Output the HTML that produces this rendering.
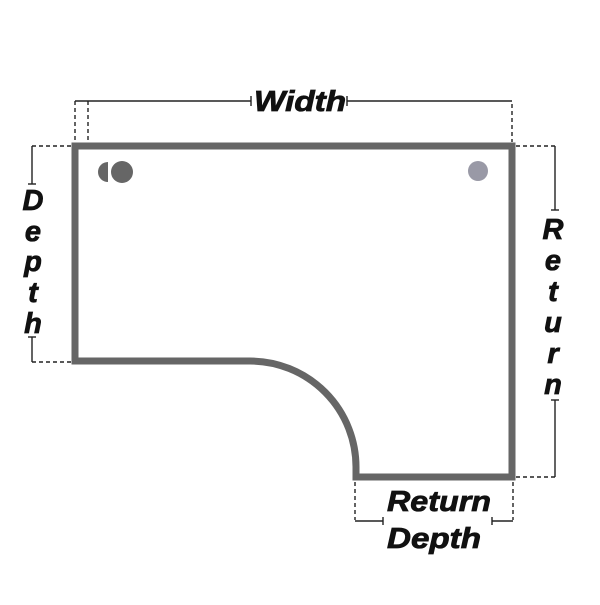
<!DOCTYPE html>
<html><head><style>html,body{margin:0;padding:0;background:#fff}</style></head>
<body>
<svg width="600" height="600" viewBox="0 0 600 600" xmlns="http://www.w3.org/2000/svg" font-family="Liberation Sans, sans-serif" font-weight="bold" font-style="italic">
<rect width="600" height="600" fill="#fff"/>
<path d="M75,146 H512 V477 H356 V468 A106,106 0 0 0 250,361 H75 Z" fill="none" stroke="#666" stroke-width="7" stroke-linejoin="miter"/>
<path d="M108,162 A10,10 0 0 0 108,182 Z" fill="#666"/>
<circle cx="122" cy="172" r="11" fill="#666"/>
<circle cx="478" cy="171" r="10" fill="#9999a6"/>
<g stroke="#222" stroke-width="1.4" fill="none">
<line x1="75" y1="101" x2="251" y2="101"/><line x1="251" y1="96" x2="251" y2="106"/>
<line x1="347" y1="101" x2="512" y2="101"/><line x1="347" y1="96" x2="347" y2="106"/>
<g stroke-dasharray="4,3"><line x1="75" y1="101" x2="75" y2="142"/><line x1="88" y1="101" x2="88" y2="142"/><line x1="512" y1="104" x2="512" y2="142"/></g>
<line x1="32" y1="146" x2="32" y2="184"/><line x1="28" y1="184" x2="36" y2="184"/>
<line x1="32" y1="337" x2="32" y2="362"/><line x1="28" y1="337" x2="36" y2="337"/>
<g stroke-dasharray="4,3"><line x1="32" y1="146" x2="71" y2="146"/><line x1="32" y1="362" x2="71" y2="362"/></g>
<line x1="555" y1="146" x2="555" y2="210"/><line x1="551" y1="210" x2="559" y2="210"/>
<line x1="555" y1="400" x2="555" y2="477"/><line x1="551" y1="400" x2="559" y2="400"/>
<g stroke-dasharray="4,3"><line x1="516" y1="146" x2="555" y2="146"/><line x1="516" y1="477" x2="555" y2="477"/></g>
<g stroke-dasharray="4,3"><line x1="355" y1="482" x2="355" y2="520"/><line x1="513" y1="482" x2="513" y2="520"/></g>
<line x1="355" y1="521" x2="383" y2="521"/><line x1="383" y1="517" x2="383" y2="525"/>
<line x1="492" y1="521" x2="513" y2="521"/><line x1="492" y1="517" x2="492" y2="525"/>
</g>
<g fill="#111" stroke="#111" stroke-width="0.8" font-size="29">
<text x="254" y="111" textLength="92" lengthAdjust="spacingAndGlyphs">Width</text>
<g font-size="29" text-anchor="middle">
<text x="33" y="210">D</text><text x="33" y="241">e</text><text x="33" y="271">p</text><text x="33" y="302">t</text><text x="33" y="333">h</text>
<text x="553" y="239">R</text><text x="553" y="270">e</text><text x="553" y="301">t</text><text x="553" y="332">u</text><text x="553" y="363">r</text><text x="553" y="394">n</text>
</g>
<text x="387" y="511" textLength="104" lengthAdjust="spacingAndGlyphs">Return</text>
<text x="387" y="548" textLength="94" lengthAdjust="spacingAndGlyphs">Depth</text>
</g>
</svg>
</body></html>
